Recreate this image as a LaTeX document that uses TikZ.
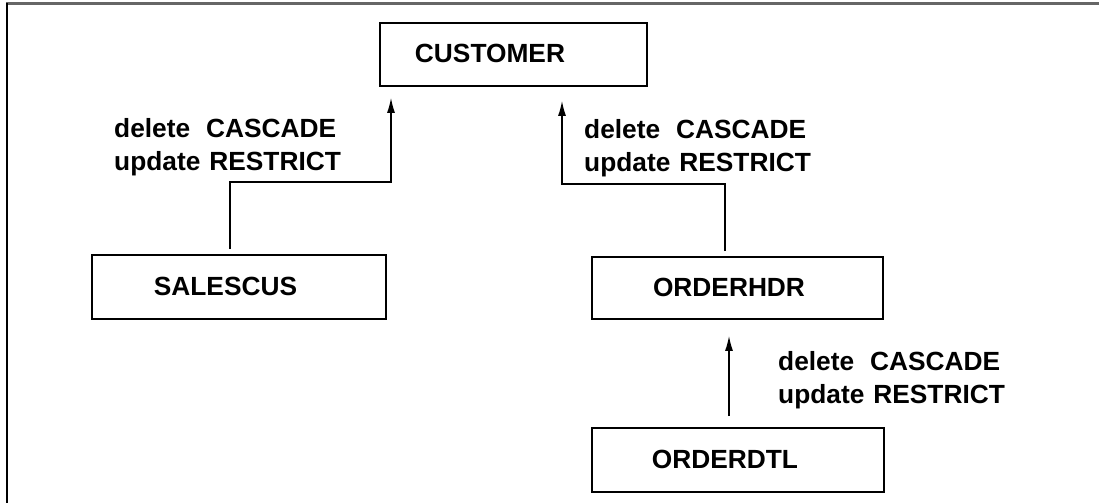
\documentclass[tikz,border=0pt]{standalone}
\usepackage{fontspec}
\setmainfont{Liberation Sans}
\usetikzlibrary{arrows.meta}
\tikzset{
  table/.style={draw=black, line width=1.7pt, minimum width=#1, minimum height=63pt, inner sep=0pt},
  tname/.style={font=\fontsize{26.3}{33}\selectfont\bfseries, inner sep=0pt},
  rule/.style={font=\fontsize{26.3}{33}\selectfont\bfseries, inner sep=0pt, anchor=west, align=left},
  fk/.style={line width=1.4pt, -{Latex[length=15pt,width=8pt]}},
}
\begin{document}
\begin{tikzpicture}[x=1pt,y=-1pt]
\useasboundingbox (0,0) rectangle (1099,503);
% page frame: top rule and left rule
\draw[line width=2.2pt, gray!80!black] (6,3.5) -- (1099,3.5);
\draw[line width=2pt, black] (7,3) -- (7,503);

% tables
\node[table=267pt] (cust) at (513.5,54.5) {};
\node[tname] (custname) at (490,53.5) {CUSTOMER};
\node[table=294pt, minimum height=64pt] (sales) at (239,287) {};
\node[tname] (salesname) at (225.5,286.5) {SALESCUS};
\node[table=291pt, minimum height=62pt] (hdr) at (737.5,288) {};
\node[tname] (hdrname) at (729,287.5) {ORDERHDR};
\node[table=292pt, minimum height=64pt] (dtl) at (738,460) {};
\node[tname] (dtlname) at (725,459.5) {ORDERDTL};

% referential rules
\node[rule] (r1) at (114,147.5) {delete\hspace{16pt}CASCADE\\update\hspace{9pt}RESTRICT};
\node[rule] (r2) at (584,148.5) {delete\hspace{16pt}CASCADE\\update\hspace{9pt}RESTRICT};
\node[rule] (r3) at (778,380.5) {delete\hspace{16pt}CASCADE\\update\hspace{9pt}RESTRICT};

% foreign keys
\coordinate (b1) at (391,182);
\coordinate (s1) at ([xshift=-9pt]sales.north);
\draw[fk, shorten <=5pt, shorten >=11pt] (s1) |- (b1) -- (b1 |- cust.south);

\coordinate (b2) at (562,184);
\coordinate (s2) at ([xshift=-12.5pt]hdr.north);
\draw[fk, shorten <=5pt, shorten >=14pt] (s2) |- (b2) -- (b2 |- cust.south);

\coordinate (s3) at ([xshift=-9pt]dtl.north);
\draw[fk, shorten <=11pt, shorten >=16pt] (s3) -- (s3 |- hdr.south);
\end{tikzpicture}
\end{document}
